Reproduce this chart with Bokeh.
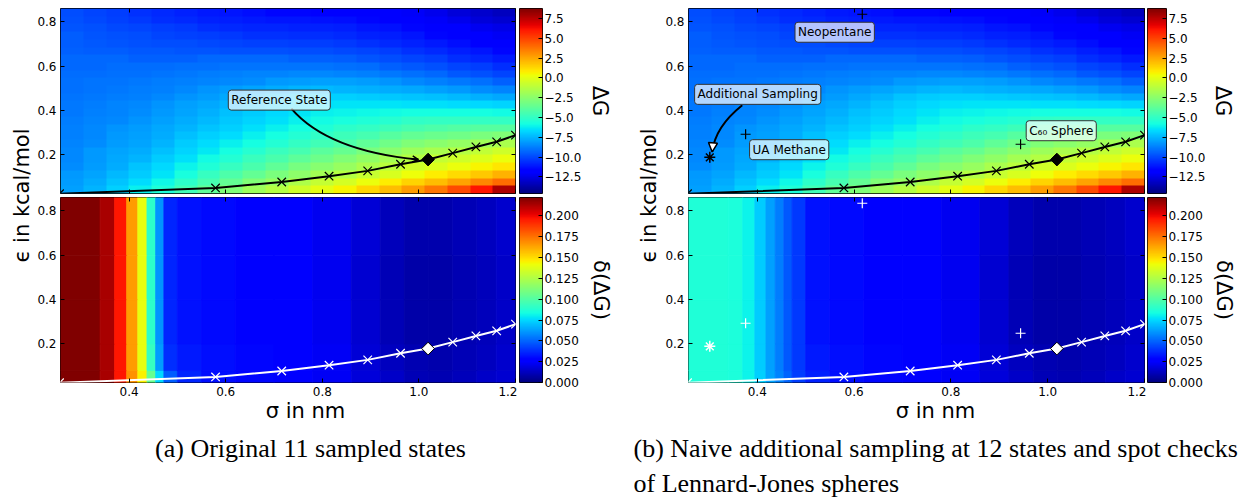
import math
import numpy as np
from bokeh.plotting import figure
from bokeh.models import (Range1d, LinearAxis, FixedTicker, LinearColorMapper, Label,
                          Arrow, OpenHead, NormalHead, ColumnDataSource, PrintfTickFormatter)
from bokeh.layouts import row, column
from bokeh.embed import file_html
from bokeh.resources import INLINE

# ---------------- data ----------------
SIGMA_RANGE = [0.258, 1.2]
EPS_RANGE = [0.026, 0.86]
DG_LIMITS = [-14.6, 8.76]
DDG_LIMITS = [0.0, 0.222]

sigma_ticks = [0.4, 0.6, 0.8, 1.0, 1.2]
eps_ticks = [0.2, 0.4, 0.6, 0.8]
dG_ticks = [-12.5, -10.0, -7.5, -5.0, -2.5, 0.0, 2.5, 5.0, 7.5]
ddG_ticks = [0.0, 0.025, 0.05, 0.075, 0.1, 0.125, 0.15, 0.175, 0.2]

# Delta G field (kcal/mol): 24 rows from eps ~0.04 (bottom) to ~0.84 (top), 20 sigma columns
dG_rows = [
    [-8.0, -7.5, -6.9, -6.2, -5.5, -4.6, -3.7, -2.8, -2.0, -1.3, -0.6, 0.0, 0.6, 1.3, 2.0, 2.8, 3.7, 4.8, 6.2, 7.8],
    [-8.1, -7.7, -7.2, -6.6, -6.0, -5.2, -4.4, -3.6, -2.8, -2.2, -1.5, -0.9, -0.4, 0.2, 0.8, 1.4, 2.0, 2.6, 3.3, 4.0],
    [-8.2, -7.9, -7.4, -7.0, -6.4, -5.7, -4.9, -4.2, -3.6, -3.0, -2.4, -1.8, -1.3, -0.8, -0.3, 0.3, 0.8, 1.2, 1.7, 2.2],
    [-8.4, -8.1, -7.7, -7.2, -6.7, -6.1, -5.5, -4.9, -4.3, -3.7, -3.1, -2.6, -2.1, -1.6, -1.1, -0.6, -0.2, 0.2, 0.6, 1.0],
    [-8.5, -8.2, -7.8, -7.5, -7.0, -6.5, -5.9, -5.4, -4.8, -4.3, -3.8, -3.3, -2.8, -2.3, -1.8, -1.3, -0.9, -0.6, -0.2, 0.2],
    [-8.5, -8.2, -7.9, -7.7, -7.3, -6.8, -6.3, -5.8, -5.3, -4.8, -4.4, -3.9, -3.5, -3.0, -2.5, -2.0, -1.6, -1.3, -1.0, -0.6],
    [-8.6, -8.4, -8.1, -7.9, -7.5, -7.0, -6.6, -6.2, -5.8, -5.4, -5.0, -4.6, -4.2, -3.7, -3.2, -2.8, -2.5, -2.2, -1.9, -1.6],
    [-8.7, -8.5, -8.2, -8.0, -7.7, -7.3, -6.9, -6.6, -6.2, -5.8, -5.4, -5.1, -4.7, -4.4, -4.0, -3.6, -3.4, -3.2, -3.0, -2.8],
    [-8.7, -8.5, -8.3, -8.1, -7.8, -7.5, -7.2, -6.9, -6.5, -6.2, -5.8, -5.5, -5.2, -5.0, -4.7, -4.4, -4.2, -4.1, -4.0, -4.0],
    [-8.8, -8.6, -8.5, -8.3, -8.0, -7.7, -7.4, -7.1, -6.8, -6.5, -6.2, -5.9, -5.7, -5.5, -5.3, -5.1, -5.0, -5.0, -5.0, -5.0],
    [-8.9, -8.7, -8.6, -8.4, -8.2, -7.9, -7.6, -7.3, -7.0, -6.7, -6.4, -6.2, -6.1, -6.0, -5.9, -5.8, -5.8, -5.8, -5.8, -5.9],
    [-8.9, -8.8, -8.6, -8.5, -8.3, -8.0, -7.8, -7.5, -7.2, -6.9, -6.7, -6.5, -6.4, -6.4, -6.4, -6.5, -6.5, -6.6, -6.7, -6.8],
    [-9.0, -8.9, -8.8, -8.7, -8.5, -8.3, -8.1, -7.8, -7.5, -7.2, -7.0, -6.9, -6.9, -7.0, -7.1, -7.2, -7.3, -7.4, -7.6, -7.8],
    [-9.1, -9.0, -8.9, -8.8, -8.7, -8.5, -8.3, -8.1, -7.9, -7.7, -7.5, -7.4, -7.5, -7.6, -7.7, -7.8, -8.0, -8.2, -8.4, -8.6],
    [-9.1, -9.0, -9.0, -8.9, -8.8, -8.7, -8.6, -8.5, -8.4, -8.2, -8.1, -8.0, -8.0, -8.1, -8.3, -8.5, -8.7, -8.9, -9.1, -9.4],
    [-9.2, -9.2, -9.1, -9.1, -9.0, -8.9, -8.8, -8.7, -8.6, -8.6, -8.5, -8.5, -8.6, -8.7, -8.9, -9.1, -9.3, -9.6, -9.8, -10.1],
    [-9.3, -9.3, -9.2, -9.2, -9.2, -9.1, -9.1, -9.0, -9.0, -9.0, -9.0, -9.0, -9.1, -9.2, -9.4, -9.6, -9.8, -10.1, -10.3, -10.6],
    [-9.3, -9.3, -9.3, -9.4, -9.4, -9.4, -9.3, -9.3, -9.3, -9.3, -9.4, -9.4, -9.5, -9.7, -9.9, -10.1, -10.3, -10.6, -10.8, -11.1],
    [-9.4, -9.5, -9.5, -9.6, -9.6, -9.7, -9.7, -9.8, -9.8, -9.8, -9.9, -9.9, -10.0, -10.1, -10.3, -10.5, -10.7, -11.0, -11.2, -11.5],
    [-9.5, -9.6, -9.7, -9.8, -9.9, -9.9, -10.0, -10.1, -10.2, -10.2, -10.3, -10.3, -10.4, -10.5, -10.7, -10.9, -11.1, -11.4, -11.6, -11.9],
    [-9.5, -9.7, -9.8, -9.9, -10.1, -10.2, -10.3, -10.4, -10.5, -10.5, -10.6, -10.6, -10.7, -10.9, -11.0, -11.2, -11.5, -11.7, -12.0, -12.2],
    [-9.7, -9.8, -10.0, -10.1, -10.3, -10.4, -10.6, -10.7, -10.8, -10.8, -10.9, -10.9, -11.0, -11.2, -11.3, -11.5, -11.8, -12.0, -12.3, -12.5],
    [-9.8, -10.0, -10.2, -10.4, -10.6, -10.7, -10.9, -11.0, -11.1, -11.2, -11.2, -11.3, -11.4, -11.5, -11.7, -11.8, -12.1, -12.4, -12.7, -12.9],
    [-9.9, -10.1, -10.3, -10.5, -10.7, -10.9, -11.1, -11.2, -11.4, -11.5, -11.5, -11.6, -11.7, -11.8, -12.0, -12.1, -12.4, -12.7, -13.0, -13.3],
]

# delta(Delta G) field on stripes
ddG_sigma_edges = [0.258, 0.34, 0.37, 0.395, 0.418, 0.437, 0.455, 0.472, 0.50, 0.55, 0.62,
                   0.70, 0.78, 0.86, 0.92, 0.97, 1.02, 1.07, 1.12, 1.16, 1.2]
ddG_eps_edges = [0.026, 0.08, 0.2, 0.4, 0.6, 0.86]
ddG_a = [
    [0.225, 0.214, 0.196, 0.168, 0.145, 0.105, 0.075, 0.048, 0.036, 0.031, 0.029, 0.027, 0.023, 0.018, 0.014, 0.011, 0.010, 0.012, 0.014, 0.016],
    [0.225, 0.214, 0.196, 0.165, 0.140, 0.092, 0.062, 0.038, 0.033, 0.031, 0.029, 0.027, 0.023, 0.017, 0.013, 0.010, 0.009, 0.011, 0.013, 0.015],
    [0.225, 0.214, 0.196, 0.165, 0.140, 0.090, 0.060, 0.036, 0.032, 0.030, 0.028, 0.026, 0.022, 0.016, 0.011, 0.008, 0.008, 0.010, 0.012, 0.014],
    [0.225, 0.214, 0.196, 0.165, 0.140, 0.090, 0.060, 0.036, 0.032, 0.030, 0.028, 0.026, 0.022, 0.016, 0.011, 0.008, 0.008, 0.010, 0.012, 0.014],
    [0.225, 0.214, 0.196, 0.165, 0.140, 0.090, 0.060, 0.036, 0.032, 0.030, 0.028, 0.026, 0.022, 0.017, 0.012, 0.009, 0.009, 0.011, 0.013, 0.015],
]
ddG_b = [
    [0.086, 0.085, 0.081, 0.073, 0.064, 0.057, 0.050, 0.041, 0.035, 0.031, 0.029, 0.027, 0.023, 0.018, 0.014, 0.011, 0.010, 0.012, 0.014, 0.016],
    [0.086, 0.085, 0.081, 0.072, 0.063, 0.055, 0.047, 0.040, 0.033, 0.031, 0.029, 0.027, 0.023, 0.017, 0.013, 0.010, 0.009, 0.011, 0.013, 0.015],
    [0.086, 0.085, 0.081, 0.072, 0.063, 0.055, 0.047, 0.040, 0.032, 0.030, 0.028, 0.026, 0.022, 0.016, 0.011, 0.008, 0.008, 0.010, 0.012, 0.014],
    [0.086, 0.085, 0.081, 0.072, 0.063, 0.055, 0.047, 0.040, 0.032, 0.030, 0.028, 0.026, 0.022, 0.016, 0.011, 0.008, 0.008, 0.010, 0.012, 0.014],
    [0.086, 0.085, 0.081, 0.072, 0.063, 0.055, 0.047, 0.040, 0.032, 0.030, 0.028, 0.026, 0.022, 0.017, 0.012, 0.009, 0.009, 0.011, 0.013, 0.015],
]

# 11 originally sampled states (index 6 = reference state)
state_sigma = [0.256, 0.579, 0.716, 0.814, 0.894, 0.962, 1.019, 1.070, 1.118, 1.161, 1.2]
state_eps = [0.025, 0.051, 0.078, 0.104, 0.128, 0.158, 0.179, 0.208, 0.236, 0.259, 0.289]
ref_index = 6

# naive additional sampling state and spot checks
extra_sigma = [0.302]
extra_eps = [0.189]
check_names = ["Neopentane", "UA Methane", "C\u2086\u2080 Sphere"]
check_sigma = [0.617, 0.376, 0.944]
check_eps = [0.834, 0.293, 0.248]

# annotation boxes (centre positions in data units) and arrow paths
ref_label_pos = (0.711, 0.447)
ref_arrow = dict(x0=0.736, y0=0.409, cx=0.811, cy=0.219, x1=0.999, y1=0.179)
add_label_pos = (0.401, 0.473)
add_arrow = dict(x0=0.369, y0=0.424, cx=0.313, cy=0.327, x1=0.307, y1=0.2135)
check_label_pos = [(0.560, 0.753), (0.466, 0.2235), (1.028, 0.309)]

SANS = "DejaVu Sans"
SERIF = "Liberation Serif"


def jet_palette(n=256):
    t = np.linspace(0, 1, n)
    r = np.interp(t, [0, 0.35, 0.66, 0.89, 1], [0, 0, 1, 1, 0.5])
    g = np.interp(t, [0, 0.125, 0.375, 0.64, 0.91, 1], [0, 0, 1, 1, 0, 0])
    b = np.interp(t, [0, 0.11, 0.34, 0.65, 1], [0.5, 1, 1, 0, 0])
    return ["#%02x%02x%02x" % (int(round(255 * a)), int(round(255 * bb)), int(round(255 * c)))
            for a, bb, c in zip(r, g, b)]


JET = jet_palette()


def add_axis(p, side, ticks, show_labels, fmt="%.1f"):
    ax = LinearAxis(ticker=FixedTicker(ticks=ticks))
    ax.major_tick_in = 4
    ax.major_tick_out = 0
    ax.major_tick_line_color = "black"
    ax.minor_tick_line_color = None
    ax.axis_line_color = None
    if fmt is not None:
        ax.formatter = PrintfTickFormatter(format=fmt)
    if show_labels:
        ax.major_label_text_font = SANS
        ax.major_label_text_font_size = "12px"
        ax.major_label_text_color = "black"
        ax.major_label_standoff = 4
    else:
        ax.major_label_text_color = None
        ax.major_label_text_font_size = "0px"
        ax.major_label_standoff = 0
    p.add_layout(ax, side)
    return ax


def panel(width, height, bl, br, bt, bb, show_x):
    p = figure(width=width, height=height, x_range=Range1d(*SIGMA_RANGE), y_range=Range1d(*EPS_RANGE),
               output_backend="svg", toolbar_location=None, tools="",
               x_axis_location=None, y_axis_location=None,
               min_border_left=bl, min_border_right=br, min_border_top=bt, min_border_bottom=bb)
    p.outline_line_color = "black"
    p.outline_line_width = 1
    p.grid.visible = False
    add_axis(p, "left", eps_ticks, True)
    add_axis(p, "right", eps_ticks, False)
    add_axis(p, "above", sigma_ticks, False)
    add_axis(p, "below", sigma_ticks, show_x)
    return p


def draw_dG(p):
    mapper = LinearColorMapper(palette=JET, low=DG_LIMITS[0], high=DG_LIMITS[1])
    arr = np.array(dG_rows, dtype=float)
    p.image(image=[arr], x=SIGMA_RANGE[0], y=EPS_RANGE[0], dw=SIGMA_RANGE[1] - SIGMA_RANGE[0],
            dh=EPS_RANGE[1] - EPS_RANGE[0], color_mapper=mapper)


def draw_ddG(p, table):
    mapper = LinearColorMapper(palette=JET, low=DDG_LIMITS[0], high=DDG_LIMITS[1])
    L, R, B, T, V = [], [], [], [], []
    for j in range(len(ddG_eps_edges) - 1):
        for i in range(len(ddG_sigma_edges) - 1):
            L.append(ddG_sigma_edges[i]); R.append(ddG_sigma_edges[i + 1])
            B.append(ddG_eps_edges[j]); T.append(ddG_eps_edges[j + 1])
            V.append(table[j][i])
    src = ColumnDataSource(dict(left=L, right=R, bottom=B, top=T, v=V))
    p.quad(left="left", right="right", bottom="bottom", top="top", source=src,
           fill_color={"field": "v", "transform": mapper},
           line_color={"field": "v", "transform": mapper}, line_width=0.8)


def draw_states(p, color, diamond_fill):
    p.line(state_sigma, state_eps, line_color=color, line_width=2)
    xs = [s for k, s in enumerate(state_sigma) if k != ref_index]
    ys = [e for k, e in enumerate(state_eps) if k != ref_index]
    p.scatter(xs, ys, marker="x", size=12, line_color=color, line_width=1.2)
    p.scatter([state_sigma[ref_index]], [state_eps[ref_index]], marker="square", angle=math.pi / 4,
              size=9, fill_color=diamond_fill, line_color="black", line_width=1)


def draw_checks(p, color):
    p.scatter(check_sigma, check_eps, marker="cross", size=10, line_color=color, line_width=1.2)
    p.scatter(extra_sigma, extra_eps, marker="asterisk", size=11, line_color=color, line_width=1.5)


def box_label(p, pos, text):
    p.add_layout(Label(x=pos[0], y=pos[1], text=text, text_font=SANS, text_font_size="12px",
                       text_align="center", text_baseline="middle", text_color="black",
                       background_fill_color="white", background_fill_alpha=0.7,
                       border_line_color="#333333", border_line_width=1, padding=3, border_radius=3))


def cbar(width, height, bl, br, bt, bb, limits, ticks, label, label_standoff, fmt=None, overrides=None):
    lo, hi = limits
    p = figure(width=width, height=height, x_range=Range1d(0, 1), y_range=Range1d(lo, hi),
               output_backend="svg", toolbar_location=None, tools="",
               x_axis_location=None, y_axis_location=None,
               min_border_left=bl, min_border_right=br, min_border_top=bt, min_border_bottom=bb)
    p.outline_line_color = "black"
    p.grid.visible = False
    grad = np.linspace(lo, hi, 256).reshape(256, 1)
    p.image(image=[grad], x=0, y=lo, dw=1, dh=hi - lo,
            color_mapper=LinearColorMapper(palette=JET, low=lo, high=hi))
    ax = add_axis(p, "right", ticks, True, fmt=fmt)
    ax.major_label_standoff = 2
    if overrides is not None:
        ax.major_label_overrides = overrides
    ax.axis_label = label
    ax.axis_label_text_font = SANS
    ax.axis_label_text_font_size = "21px"
    ax.axis_label_text_font_style = "normal"
    ax.axis_label_text_color = "black"
    ax.axis_label_standoff = label_standoff
    return p


def text_fig(width, height, items):
    p = figure(width=width, height=height, x_range=Range1d(0, width), y_range=Range1d(0, height),
               output_backend="svg", toolbar_location=None, tools="", min_border=0,
               x_axis_location=None, y_axis_location=None)
    p.outline_line_color = None
    p.grid.visible = False
    for it in items:
        p.add_layout(Label(text_color="black", **it))
    return p


dG_over = {v: ("%.1f" % v).replace("-", "\u2212") for v in dG_ticks}

# ---------------- column (a) ----------------
topA = panel(483, 195, 24, 2, 8, 2, False)
draw_dG(topA)
topA.quadratic(x0=[ref_arrow["x0"]], y0=[ref_arrow["y0"]], x1=[ref_arrow["x1"]], y1=[ref_arrow["y1"]],
               cx=[ref_arrow["cx"]], cy=[ref_arrow["cy"]], line_color="black", line_width=2)
topA.add_layout(Arrow(end=OpenHead(size=6, line_width=1.5, line_color="black"),
                      x_start=0.985, y_start=0.182, x_end=ref_arrow["x1"], y_end=ref_arrow["y1"],
                      line_width=1.5, line_color="black"))
draw_states(topA, "black", "black")
box_label(topA, ref_label_pos, "Reference State")

botA = panel(483, 205, 24, 2, 2, 18, True)
draw_ddG(botA, ddG_a)
draw_states(botA, "white", "white")

cbTopA = cbar(103, 195, 2, 78, 8, 2, DG_LIMITS, dG_ticks, "\u0394G", 4, fmt="%.1f", overrides=dG_over)
cbBotA = cbar(103, 205, 2, 78, 2, 18, DDG_LIMITS, ddG_ticks, "\u03b4(\u0394G)", 7, fmt="%.3f")

ylabA = text_fig(34, 400, [dict(x=21, y=205, text="\u03f5 in kcal/mol", angle=math.pi / 2,
                                 text_font=SANS, text_font_size="21px", text_align="center",
                                 text_baseline="middle")])
capA = text_fig(620, 97, [
    dict(x=305, y=87, text="\u03c3 in nm", text_font=SANS, text_font_size="21px",
         text_align="center", text_baseline="middle"),
    dict(x=310, y=49, text="(a) Original 11 sampled states", text_font=SERIF,
         text_font_size="26px", text_align="center", text_baseline="middle"),
])

# ---------------- column (b) ----------------
topB = panel(486, 195, 28, 2, 8, 2, False)
draw_dG(topB)
topB.quadratic(x0=[add_arrow["x0"]], y0=[add_arrow["y0"]], x1=[add_arrow["x1"]], y1=[add_arrow["y1"]],
               cx=[add_arrow["cx"]], cy=[add_arrow["cy"]], line_color="black", line_width=2)
topB.add_layout(Arrow(end=NormalHead(size=9, fill_color="white", line_color="black", line_width=1.5),
                      x_start=0.308, y_start=0.24, x_end=add_arrow["x1"], y_end=add_arrow["y1"],
                      line_width=1.5, line_color="black"))
draw_states(topB, "black", "black")
draw_checks(topB, "black")
box_label(topB, add_label_pos, "Additional Sampling")
for pos, name in zip(check_label_pos, check_names):
    box_label(topB, pos, name)

botB = panel(486, 205, 28, 2, 2, 18, True)
draw_ddG(botB, ddG_b)
draw_states(botB, "white", "white")
draw_checks(botB, "white")

cbTopB = cbar(92, 195, 1, 68, 8, 2, DG_LIMITS, dG_ticks, "\u0394G", 3, fmt="%.1f", overrides=dG_over)
cbBotB = cbar(92, 205, 1, 68, 2, 18, DDG_LIMITS, ddG_ticks, "\u03b4(\u0394G)", 6, fmt="%.3f")

ylabB = text_fig(40, 400, [dict(x=28, y=205, text="\u03f5 in kcal/mol", angle=math.pi / 2,
                                 text_font=SANS, text_font_size="21px", text_align="center",
                                 text_baseline="middle")])
capB = text_fig(618, 97, [
    dict(x=315, y=87, text="\u03c3 in nm", text_font=SANS, text_font_size="21px",
         text_align="center", text_baseline="middle"),
    dict(x=13, y=49, text="(b) Naive additional sampling at 12 states and spot checks", text_font=SERIF,
         text_font_size="26px", text_align="left", text_baseline="middle"),
    dict(x=13, y=14, text="of Lennard-Jones spheres", text_font=SERIF,
         text_font_size="26px", text_align="left", text_baseline="middle"),
])

colA = column(row(ylabA, column(topA, botA), column(cbTopA, cbBotA)), capA)
colB = column(row(ylabB, column(topB, botB), column(cbTopB, cbBotB)), capB)
root = row(colA, colB)

open("out.html", "w").write(file_html(root, INLINE))
